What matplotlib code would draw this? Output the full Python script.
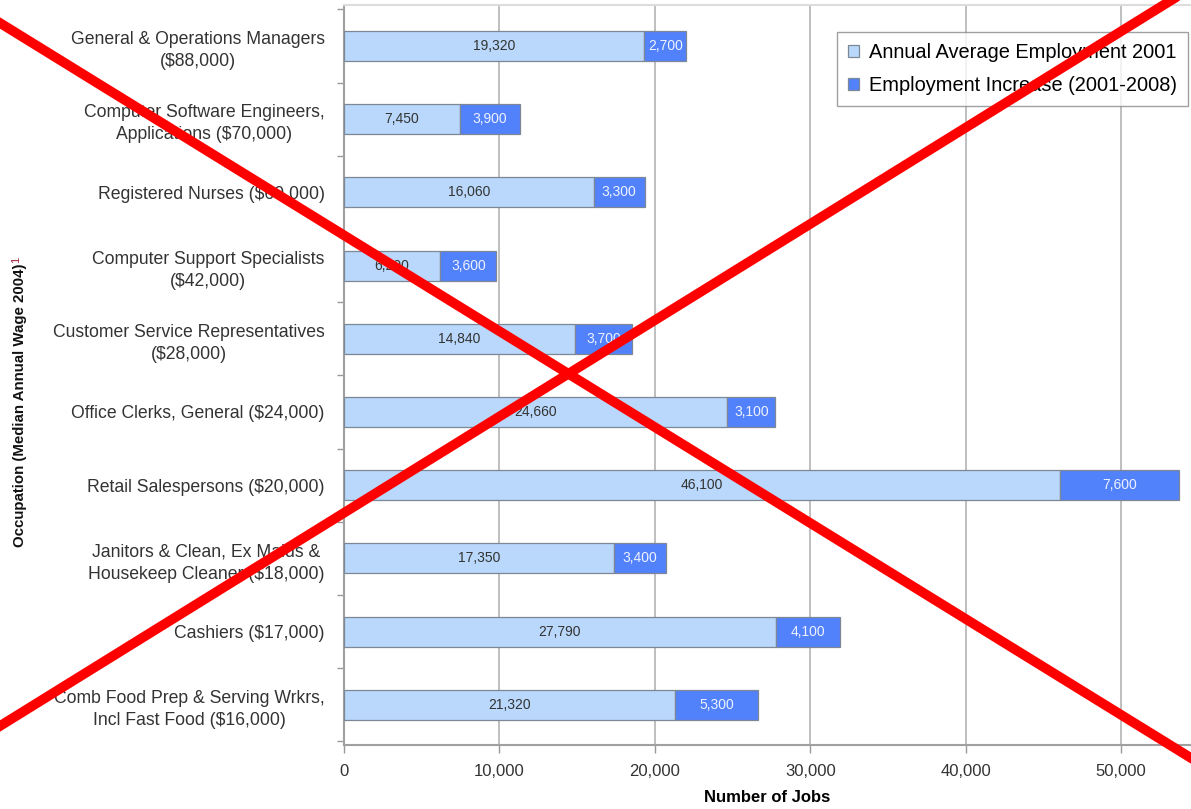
import numpy as np
import matplotlib.pyplot as plt
from matplotlib.lines import Line2D
from matplotlib.ticker import FixedLocator, FuncFormatter

plt.rcParams['font.family'] = ['Liberation Sans', 'DejaVu Sans']

# Data (top to bottom)
occupations = [
    'General & Operations Managers\n($88,000)',
    'Computer Software Engineers,\nApplications ($70,000)',
    'Registered Nurses ($60,000)',
    'Computer Support Specialists\n($42,000)',
    'Customer Service Representatives\n($28,000)',
    'Office Clerks, General ($24,000)',
    'Retail Salespersons ($20,000)',
    'Janitors & Clean, Ex Maids &\nHousekeep Cleaner ($18,000)',
    'Cashiers ($17,000)',
    'Comb Food Prep & Serving Wrkrs,\nIncl Fast Food ($16,000)',
]
employment_2001 = [19320, 7450, 16060, 6200, 14840, 24660, 46100, 17350, 27790, 21320]
increase_2001_2008 = [2700, 3900, 3300, 3600, 3700, 3100, 7600, 3400, 4100, 5300]
x_ticks = [0, 10000, 20000, 30000, 40000, 50000]

light = '#b9d8fb'
dark = '#5282fb'
edge = '#7d8796'

fig = plt.figure(figsize=(11.91, 8.09), dpi=100)
ax = fig.add_axes([344 / 1191, 1 - 745 / 809, 1 - 344 / 1191, 740 / 809])

y = np.arange(len(occupations))
h = 0.41
ax.barh(y, employment_2001, height=h, color=light, edgecolor=edge, linewidth=0.9,
        label='Annual Average Employment 2001', zorder=3)
ax.barh(y, increase_2001_2008, left=employment_2001, height=h, color=dark,
        edgecolor=edge, linewidth=0.9, label='Employment Increase (2001-2008)', zorder=3)

for yi, base, inc in zip(y, employment_2001, increase_2001_2008):
    ax.text(base / 2, yi, f'{base:,}', ha='center', va='center', fontsize=10,
            color='#333333', zorder=4)
    ax.text(base + inc / 2, yi, f'{inc:,}', ha='center', va='center', fontsize=10,
            color='#eef2ff', zorder=4)

ax.set_xlim(0, 54500)
ax.set_ylim(9.55, -0.56)
ax.set_xticks(x_ticks)
ax.xaxis.set_major_formatter(FuncFormatter(lambda v, p: f'{int(v):,}'))
ax.tick_params(axis='x', length=5.5, width=1, color='#999999', labelsize=12,
               labelcolor='#333333', pad=8)

ax.set_yticks(y)
ax.set_yticklabels(occupations, fontsize=12.7, color='#333333', ha='right',
                   multialignment='center', linespacing=1.4)
ax.tick_params(axis='y', which='major', length=0, pad=14)
ax.yaxis.set_minor_locator(FixedLocator(np.arange(-0.5, len(occupations), 1.0)))
ax.tick_params(axis='y', which='minor', length=5, width=1, color='#999999')

ax.grid(axis='x', color='#b4b4b4', linewidth=1.2, zorder=0)
for side in ['left', 'bottom']:
    ax.spines[side].set_color('#a0a0a0')
    ax.spines[side].set_linewidth(1.5)
ax.spines['top'].set_color('#dddddd')
ax.spines['top'].set_linewidth(1.5)
ax.spines['right'].set_visible(False)

ax.set_xlabel('Number of Jobs', fontsize=12, fontweight='bold', labelpad=8)

fig.text(20 / 1191, 1 - 405 / 809, 'Occupation (Median Annual Wage 2004)',
         rotation=90, ha='center', va='center', fontsize=10.8, fontweight='bold',
         color='#111111')
fig.text(16 / 1191, 1 - 260 / 809, '1', rotation=90, ha='center', va='center',
         fontsize=8, color='#a0203a')

leg = ax.legend(loc='upper right', bbox_to_anchor=(0.997, 0.963), fontsize=14.4,
                frameon=True, fancybox=False, edgecolor='#888888', borderpad=0.55,
                handlelength=0.55, handleheight=0.55, handletextpad=0.5,
                labelspacing=0.7, borderaxespad=0)
leg.get_frame().set_linewidth(1.0)
leg.set_zorder(5)

# Red cross drawn over the whole figure
fig.add_artist(Line2D([0, 1], [1 - 23 / 809, 1 - 758 / 809], color='#ff0000',
                      linewidth=7, transform=fig.transFigure, zorder=10))
fig.add_artist(Line2D([0, 1], [1 - 726 / 809, 1 + 12 / 809], color='#ff0000',
                      linewidth=7, transform=fig.transFigure, zorder=10))

fig.savefig('out.png', dpi=100)
